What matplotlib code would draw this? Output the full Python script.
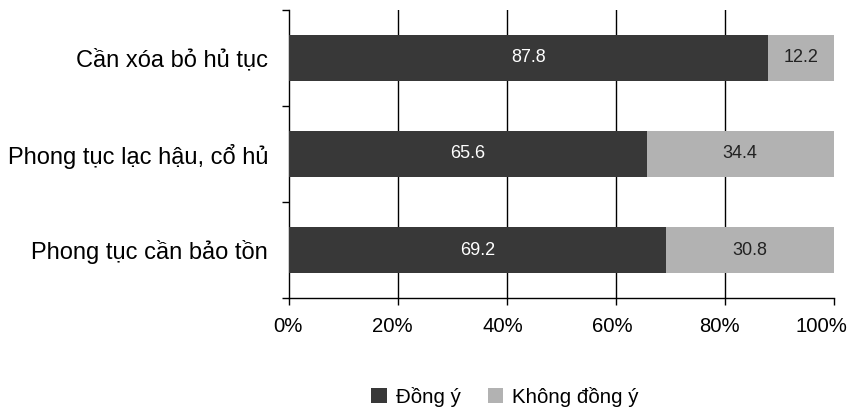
import matplotlib.pyplot as plt
import matplotlib.transforms as mtransforms
from matplotlib.patches import Patch

plt.rcParams['font.family'] = ['Liberation Sans', 'DejaVu Sans']

categories = ["Cần xóa bỏ hủ tục", "Phong tục lạc hậu, cổ hủ", "Phong tục cần bảo tồn"]
agree = [87.8, 65.6, 69.2]
disagree = [12.2, 34.4, 30.8]
series_names = ["Đồng ý", "Không đồng ý"]
x_ticks = [0, 20, 40, 60, 80, 100]

dark = "#383838"
light = "#b2b2b2"

fig = plt.figure(figsize=(8.53, 4.11), dpi=100)
ax = fig.add_axes([289 / 853, 1 - 298 / 411, 545 / 853, 288 / 411])

ypos = list(range(len(categories)))
h = 0.47
ax.barh(ypos, agree, height=h, color=dark, zorder=3)
ax.barh(ypos, disagree, left=agree, height=h, color=light, zorder=3)

for y, a, d in zip(ypos, agree, disagree):
    ax.text(a / 2, y, f"{a:.1f}", ha="center", va="center", color="white", fontsize=13, zorder=4)
    ax.text(a + d / 2, y, f"{d:.1f}", ha="center", va="center", color="#222222", fontsize=13, zorder=4)

ax.set_xlim(0, 100)
ax.set_ylim(len(categories) - 0.5, -0.5)

for v in x_ticks[1:-1]:
    ax.axvline(v, color="black", lw=1, zorder=1)

ax.set_xticks(x_ticks)
ax.set_xticklabels([f"{v}%" for v in x_ticks], fontsize=14.6)
ax.tick_params(axis="x", length=5, width=1, pad=9, color="black")

# nudge the percentage labels leftwards so the last one stays inside the figure
label_shift_px = [-1, -6, -4, -4, -6, -13]
for lbl, dx in zip(ax.get_xticklabels(), label_shift_px):
    lbl.set_transform(lbl.get_transform() +
                      mtransforms.ScaledTranslation(dx / 100, 0, fig.dpi_scale_trans))

ax.set_yticks([i + 0.5 for i in range(-1, len(categories))])
ax.set_yticklabels([])
ax.set_yticks(ypos, minor=True)
ax.set_yticklabels(categories, minor=True, fontsize=17)
ax.tick_params(axis="y", which="major", length=5, width=1)
ax.tick_params(axis="y", which="minor", length=0, pad=15)

for s in ["top", "right"]:
    ax.spines[s].set_visible(False)
for s in ["left", "bottom"]:
    ax.spines[s].set_linewidth(1)
    ax.spines[s].set_color("black")

handles = [Patch(facecolor=dark), Patch(facecolor=light)]
fig.legend(handles, series_names, loc="center", bbox_to_anchor=(505 / 853, 1 - 397 / 411),
           ncol=2, frameon=False, fontsize=14.8, handlelength=0.75, handleheight=0.75,
           handletextpad=0.45, columnspacing=1.3)

fig.savefig("out.png", dpi=100)
